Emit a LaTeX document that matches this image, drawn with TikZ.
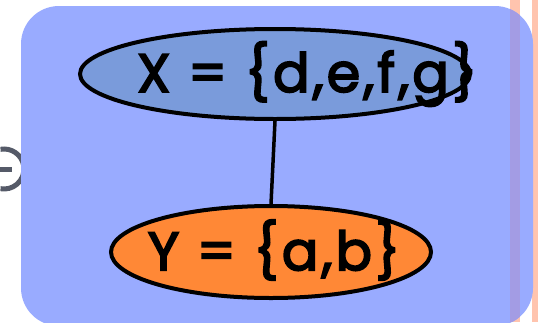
\documentclass[tikz,border=0pt]{standalone}
\usepackage{fontspec}
\setmainfont{Poppins}[LetterSpace=6]
\usetikzlibrary{shapes.geometric}
\definecolor{boxblue}{HTML}{99ABFF}
\definecolor{xblue}{HTML}{7A9BDB}
\definecolor{yorange}{HTML}{FF8836}
\definecolor{stripe}{HTML}{FFC4AE}
\definecolor{overlap}{HTML}{A39CE4}
\definecolor{glyph}{HTML}{555A68}
\newcommand{\heavytext}[1]{\special{pdf:literal direct 2 Tr 1.8 w 0 g 0 G}#1\special{pdf:literal direct 0 Tr}}
\tikzset{
  setnode/.style={ellipse, draw=black, line width=4pt, inner sep=0pt},
  settext/.style={font=\fontsize{54}{60}\selectfont, text=black, inner sep=0pt},
  glyphline/.style={draw=glyph, line width=5pt}
}
\begin{document}
\begin{tikzpicture}[x=1pt,y=-1pt]
\useasboundingbox (0,0) rectangle (538,322);
\fill[stripe] (510,0) rectangle (520,322);
\fill[stripe] (532,0) rectangle (538,322);
\draw[glyphline] (4,169) ++(-100:20) arc[start angle=-100, end angle=100, radius=20];
\draw[glyphline] (0,169) -- (12,169);
\fill[boxblue, rounded corners=38pt] (21,6) rectangle (533,326);
\begin{scope}
  \clip[rounded corners=38pt] (21,6) rectangle (533,326);
  \fill[overlap] (510,0) rectangle (520,322);
\end{scope}
\node[setnode, fill=xblue, minimum width=390pt, minimum height=90pt] (X) at (275,74) {};
\node[setnode, fill=yorange, minimum width=320pt, minimum height=92pt] (Y) at (271,252) {};
\draw[line width=3.5pt] (X.south) -- (Y.north);
\node[settext] (xt) at (307,74) {\heavytext{X = \{d,e,f,g\}}};
\node[settext] (yt) at (274,250) {\heavytext{Y = \{a,b\}}};
\end{tikzpicture}
\end{document}
